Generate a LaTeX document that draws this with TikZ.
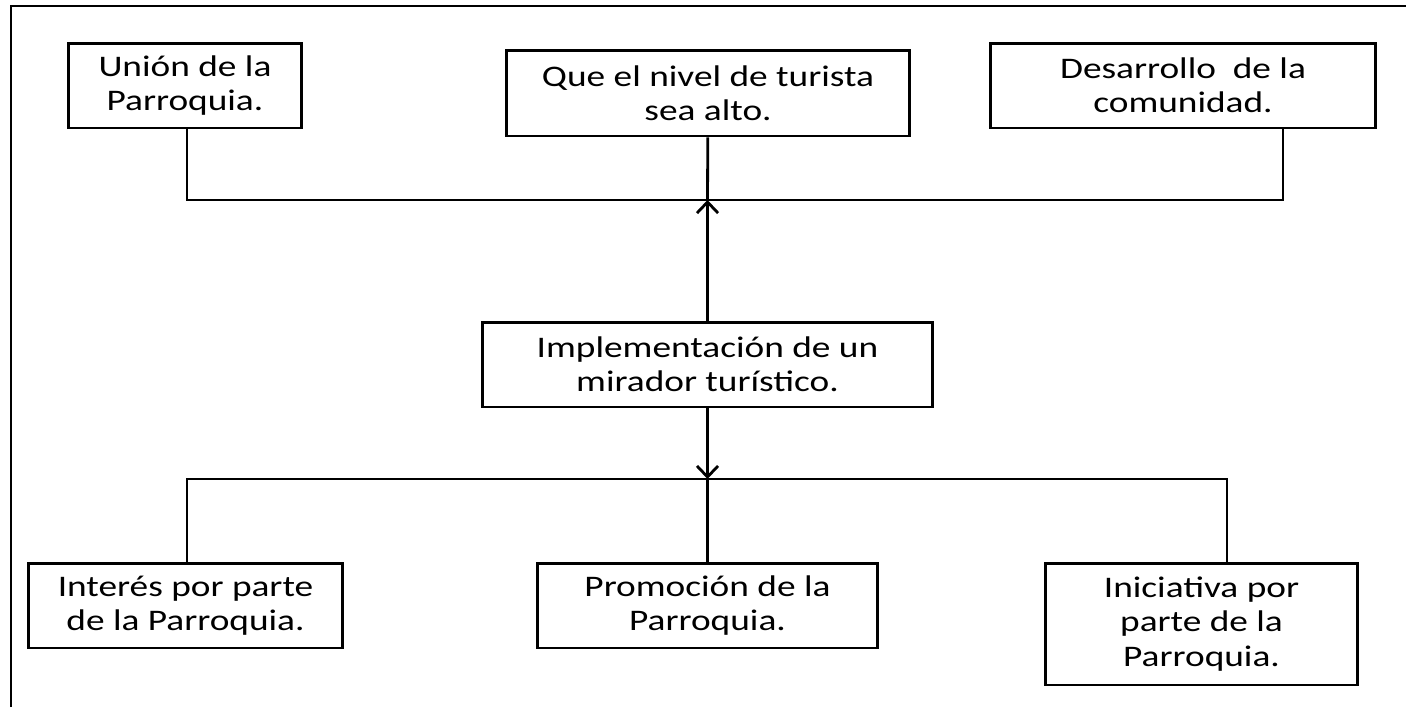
\documentclass[tikz,border=0pt]{standalone}
\usepackage{fontspec}
\setmainfont{Carlito}[FakeStretch=1.25]
\usetikzlibrary{arrows.meta}

\begin{document}
\begin{tikzpicture}[x=0.02cm, y=-0.02cm, line width=1.6pt]
        \tikzstyle{box} = [rectangle, draw=black, line width=1.7pt, inner sep=0pt, minimum height=1.7cm, align=center, font=\fontsize{17}{19.5}\selectfont]
        \tikzstyle{flecha} = [-{Straight Barb[length=0.22cm, width=0.42cm]}]

        \useasboundingbox (0,0) rectangle (1406,707);
        \draw [line width=1.2pt] (11,707) -- (11,6) -- (1406,6);

        % fila de arriba
        \node (union) [box, minimum width=4.68cm] at (185,85.5) {Unión de la\\Parroquia.};
        \node (turista) [box, minimum width=8.08cm, minimum height=1.72cm] at (708,93) {Que el nivel de turista\\sea alto.};
        \node (desarrollo) [box, minimum width=7.72cm] at (1183,85.5) {Desarrollo~ de la\\comunidad.};

        % centro
        \node (mirador) [box, minimum width=9.02cm] at (707.5,364.5) {Implementación de un\\mirador turístico.};

        % fila de abajo
        \node (interes) [box, minimum width=6.3cm] at (185.5,605.5) {Interés por parte\\de la Parroquia.};
        \node (promocion) [box, minimum width=6.82cm] at (707.5,605.5) {Promoción de la\\Parroquia.};
        \node (iniciativa) [box, minimum width=6.26cm, minimum height=2.44cm] at (1201.5,624) {Iniciativa por\\parte de la\\Parroquia.};

        \coordinate (arribaC) at (707.5,200);
        \coordinate (arribaI) at (187,200);
        \coordinate (arribaD) at (1283,200);
        \coordinate (abajoC) at (707.5,479);
        \coordinate (abajoI) at (187,479);
        \coordinate (abajoD) at (1227,479);

        \draw (union.south -| arribaI) -- (arribaI) -- (arribaD) -- (desarrollo.south -| arribaD);
        \draw (turista) -- (arribaC);
        \draw [flecha] (mirador) -- (arribaC);

        \draw [flecha] (mirador) -- (abajoC);
        \draw (interes.north -| abajoI) -- (abajoI) -- (abajoD) -- (iniciativa.north -| abajoD);
        \draw (promocion) -- (abajoC);
    \end{tikzpicture}
\end{document}
